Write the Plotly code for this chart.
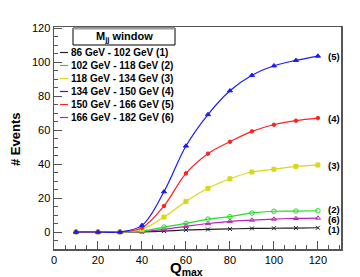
import plotly.graph_objects as go

q_max = [10, 20, 30, 40, 50, 60, 70, 80, 90, 100, 110, 120]

s1 = [0, 0, 0, 0.1, 0.5, 1.2, 1.5, 1.8, 2.1, 2.2, 2.3, 2.5]        # black (1)
s2 = [0, 0, 0, 0.5, 2.9, 5.1, 7.6, 9.0, 11.2, 12.2, 12.3, 12.5]   # green (2)
s3 = [0, 0, 0, 1.5, 8.8, 18.0, 25.7, 31.3, 35.3, 36.9, 38.6, 39.4] # yellow (3)
s4 = [0, 0, 0, 3.9, 23.7, 50.6, 69.1, 83.1, 92.2, 97.8, 101.0, 103.5]  # blue
s5 = [0, 0, 0, 2.5, 15.3, 34.5, 46.1, 53.1, 59.2, 63.1, 65.5, 67.0]   # red
s6 = [0, 0, 0, 0.3, 1.6, 3.3, 5.0, 6.3, 7.0, 7.6, 8.0, 8.2]        # magenta

legend_names = ["86 GeV - 102 GeV (1)", "102 GeV - 118 GeV (2)", "118 GeV - 134 GeV (3)",
                "134 GeV - 150 GeV (4)", "150 GeV - 166 GeV (5)", "166 GeV - 182 GeV (6)"]
end_labels = ["(1)", "(2)", "(3)", "(5)", "(4)", "(6)"]

series = [s1, s2, s3, s4, s5, s6]
colors = ["#222222", "#22dd22", "#d8d818", "#1a1aff", "#ff2020", "#bb22bb"]
symbols = ["x-thin-open", "circle-open", "square", "triangle-up", "circle", "triangle-up-open"]
sizes = [4, 4.5, 4, 4.5, 3.5, 4.5]
order = [0, 5, 1, 2, 4, 3]

fig = go.Figure()
for i in order:
    fig.add_trace(go.Scatter(
        x=q_max, y=series[i], mode="lines+markers", line_shape="spline",
        line=dict(color=colors[i], width=1.2),
        marker=dict(symbol=symbols[i], size=sizes[i], color=colors[i],
                    line=dict(color=colors[i], width=1)),
        showlegend=False, hoverinfo="skip"))

# end labels
yshift = [-1.5, 1, 0, 0, 0, -1]
for i in range(6):
    fig.add_annotation(x=124, y=series[i][-1], text="<b>" + end_labels[i] + "</b>",
                       xanchor="left", yanchor="middle", showarrow=False,
                       yshift=yshift[i], borderpad=0,
                       font=dict(family="Liberation Sans", size=9.5, color="black"))

W, H = 360, 277
L, R, T, B = 54, 19, 27, 28
pw, ph = W - L - R, H - T - B
def px(x): return (x - L) / pw
def py(y): return (H - B - y) / ph

# legend header box
fig.add_shape(type="rect", xref="paper", yref="paper",
              x0=px(73), x1=px(175), y0=py(45), y1=py(28),
              line=dict(color="black", width=1), fillcolor="white")
fig.add_shape(type="line", xref="paper", yref="paper",
              x0=px(73), x1=px(175), y0=py(28.5), y1=py(28.5),
              line=dict(color="#999999", width=2))
fig.add_annotation(xref="paper", yref="paper", x=px(124), y=py(37),
                   text="<b>M<sub>jj</sub> window</b>", showarrow=False,
                   xanchor="center", yanchor="middle",
                   font=dict(family="Liberation Sans", size=11, color="black"))
rows = [52.5, 65.5, 78.5, 91.5, 104.5, 117.5]
for i in range(6):
    fig.add_shape(type="line", xref="paper", yref="paper",
                  x0=px(60), x1=px(68), y0=py(rows[i]), y1=py(rows[i]),
                  line=dict(color=colors[i], width=1.2))
    fig.add_annotation(xref="paper", yref="paper", x=px(69.5), y=py(rows[i]),
                       text="<b>" + legend_names[i] + "</b>", showarrow=False,
                       xanchor="left", yanchor="middle", borderpad=0,
                       font=dict(family="Liberation Sans", size=10, color="black"))

# axis titles
fig.add_annotation(xref="paper", yref="paper", x=px(186), y=py(268.5),
                   text="<b>Q</b><sub><b>max</b></sub>", showarrow=False,
                   xanchor="center", yanchor="middle", borderpad=0,
                   font=dict(family="Liberation Sans", size=15, color="black"))
fig.add_annotation(xref="paper", yref="paper", x=px(15), y=py(140),
                   text="<b># Events</b>", showarrow=False, textangle=-90,
                   xanchor="center", yanchor="middle",
                   font=dict(family="Liberation Sans", size=13, color="black"))

axis_common = dict(showgrid=False, zeroline=False, showline=True, linecolor="#555555",
                   linewidth=1.5, mirror=True, ticks="inside", ticklen=8,
                   tickcolor="#555555", tickwidth=1,
                   tickfont=dict(family="Liberation Sans", size=11, color="black"))
fig.update_xaxes(range=[0, 130.5], dtick=20, tick0=0,
                 minor=dict(dtick=5, ticks="inside", ticklen=4, tickcolor="#555555"),
                 **axis_common)
fig.update_yaxes(range=[-10, 120.6], dtick=20, tick0=0,
                 minor=dict(dtick=5, ticks="inside", ticklen=4, tickcolor="#555555"),
                 **axis_common)
fig.update_layout(width=W, height=H,
                  margin=dict(l=L, r=R, t=T, b=B, pad=0, autoexpand=False),
                  plot_bgcolor="white", paper_bgcolor="white")
fig.write_html("out.html", config={"displayModeBar": False, "staticPlot": True},
               post_script="document.body.style.margin='0';document.body.style.overflow='hidden';")
